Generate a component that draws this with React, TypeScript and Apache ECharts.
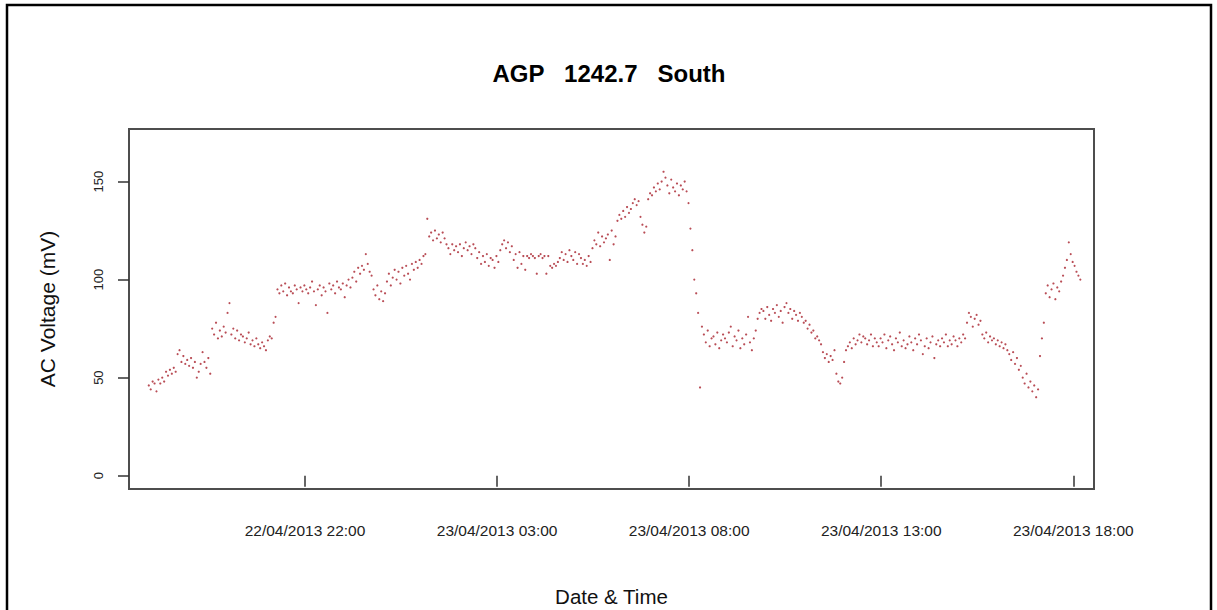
import React, { useEffect, useRef } from "react";
import * as echarts from "echarts";

// Readings every 3 minutes, starting 22/04/2013 17:56 (hours counted from 22/04/2013 00:00)
const startHour = 17 + 56 / 60;
const stepHours = 3 / 60;

// AC voltage (mV), one row per hour of readings
const voltage: number[] = [
  46, 44, 48, 47, 43, 49, 47, 50, 48, 53, 51, 54, 52, 55, 53, 62, 64, 58, 61, 57,
  59, 56, 60, 55, 58, 50, 53, 57, 63, 58, 55, 60, 52, 75, 72, 78, 70, 74, 71, 76,
  73, 83, 88, 72, 75, 70, 74, 69, 72, 71, 68, 70, 73, 67, 69, 66, 70, 67, 65, 68,
  66, 64, 69, 71, 70, 78, 81, 95, 93, 97, 94, 98, 92, 96, 94, 93, 97, 95, 88, 96,
  94, 97, 95, 93, 96, 99, 94, 87, 95, 97, 92, 96, 94, 83, 98, 95, 97, 93, 99, 96,
  95, 98, 91, 97, 100, 96, 101, 104, 99, 106, 103, 107, 105, 113, 108, 104, 102, 95, 92, 97,
  90, 94, 89, 93, 99, 103, 97, 101, 105, 100, 104, 98, 106, 102, 107, 103, 100, 108, 105, 109,
  106, 110, 108, 112, 113, 131, 122, 124, 120, 125, 121, 123, 119, 124, 121, 118, 116, 113, 118, 115,
  117, 114, 118, 112, 116, 119, 115, 117, 113, 118, 116, 111, 114, 108, 112, 109, 113, 107, 111, 110,
  106, 112, 109, 115, 118, 120, 116, 119, 114, 117, 110, 113, 106, 114, 108, 112, 105, 112, 111, 113,
  112, 111, 103, 112, 113, 111, 112, 103, 112, 107, 106, 108, 107, 109, 111, 114, 110, 113, 109, 115,
  112, 110, 114, 108, 113, 111, 108, 110, 107, 112, 109, 116, 120, 118, 124, 117, 122, 119, 121, 123,
  110, 125, 118, 122, 130, 133, 131, 135, 132, 137, 134, 136, 139, 141, 138, 140, 132, 128, 124, 127,
  141, 144, 143, 147, 145, 149, 146, 150, 155, 152, 148, 144, 151, 147, 145, 149, 143, 148, 146, 150,
  145, 139, 126, 115, 100, 93, 83, 45, 76, 72, 68, 74, 66, 70, 71, 67, 73, 65, 69, 72,
  70, 68, 73, 76, 66, 71, 69, 74, 65, 70, 67, 72, 81, 68, 64, 70, 74, 80, 83, 85,
  84, 80, 86, 82, 79, 85, 83, 87, 81, 84, 78, 86, 88, 83, 85, 80, 84, 82, 79, 83,
  81, 78, 79, 75, 77, 73, 74, 70, 71, 69, 67, 63, 60, 62, 58, 61, 59, 64, 52, 48,
  47, 50, 58, 64, 66, 68, 65, 70, 67, 69, 72, 68, 71, 70, 67, 69, 72, 66, 70, 68,
  66, 70, 68, 72, 65, 69, 71, 67, 64, 70, 68, 73, 66, 69, 65, 67, 71, 68, 64, 70,
  67, 72, 69, 62, 66, 70, 65, 68, 71, 60, 67, 69, 66, 70, 68, 72, 66, 69, 67, 71,
  69, 66, 70, 68, 72, 70, 78, 83, 81, 76, 80, 82, 77, 79, 72, 70, 73, 68, 71, 69,
  70, 67, 69, 66, 68, 65, 67, 64, 62, 59, 63, 57, 60, 54, 56, 50, 47, 52, 45, 48,
  43, 46, 40, 44, 61, 70, 78, 93, 97, 91, 95, 98, 90, 96, 94, 99, 102, 106, 110, 119,
  113, 109, 107, 104, 102, 100,
];

// Time axis ticks (hours from 22/04/2013 00:00) and their labels
const timeTicks: number[] = [22, 27, 32, 37, 42];
const timeTickLabels: string[] = [
  "22/04/2013 22:00",
  "23/04/2013 03:00",
  "23/04/2013 08:00",
  "23/04/2013 13:00",
  "23/04/2013 18:00",
];
const voltageTicks: number[] = [0, 50, 100, 150];

const chartTitle = "AGP   1242.7   South";
const xTitle = "Date & Time";
const yTitle = "AC Voltage (mV)";

const FONT = '"Liberation Sans", Arial, sans-serif';

export default function App() {
  const ref = useRef<HTMLDivElement>(null);

  useEffect(() => {
    if (!ref.current) return;
    const chart = echarts.init(ref.current, null, { renderer: "svg" });

    const points = voltage.map((v, i) => [startHour + i * stepHours, v]);

    chart.setOption({
      animation: false,
      backgroundColor: "#ffffff",
      grid: {
        left: 129,
        top: 129,
        width: 965,
        height: 360,
        show: true,
        borderColor: "#4d4d4d",
        borderWidth: 2,
        backgroundColor: "transparent",
        containLabel: false,
        outerBoundsMode: "none",
      },
      graphic: [
        {
          type: "rect",
          shape: { x: 7, y: 5, width: 1204, height: 640 },
          style: { fill: "none", stroke: "#000", lineWidth: 2.5 },
          silent: true,
        },
        {
          type: "text",
          x: 609,
          y: 73,
          style: {
            text: chartTitle,
            fontFamily: FONT,
            fontSize: 24,
            fontWeight: "bold",
            fill: "#000",
            align: "center",
            verticalAlign: "middle",
          },
        },
      ],
      xAxis: {
        type: "value",
        min: 17.418,
        max: 42.539,
        name: xTitle,
        nameLocation: "middle",
        nameGap: 97,
        nameTextStyle: { fontFamily: FONT, fontSize: 20.5, color: "#111" },
        axisLine: { show: false },
        splitLine: { show: false },
        axisTick: {
          show: true,
          customValues: timeTicks,
          length: 11,
          lineStyle: { color: "#333", width: 1.5 },
        },
        axisLabel: {
          customValues: timeTicks,
          margin: 33,
          fontFamily: FONT,
          fontSize: 15.5,
          color: "#222",
          formatter: (v: number) => {
            const k = timeTicks.findIndex((t) => Math.abs(t - v) < 1e-6);
            return k >= 0 ? timeTickLabels[k] : "";
          },
        },
      },
      yAxis: {
        type: "value",
        min: -6.8,
        max: 176.8,
        name: yTitle,
        nameLocation: "middle",
        nameRotate: 90,
        nameGap: 71,
        nameTextStyle: { fontFamily: FONT, fontSize: 21, color: "#111" },
        axisLine: { show: false },
        splitLine: { show: false },
        axisTick: {
          show: true,
          customValues: voltageTicks,
          length: 11,
          lineStyle: { color: "#333", width: 1.5 },
        },
        axisLabel: {
          customValues: voltageTicks,
          rotate: 90,
          margin: 24,
          fontFamily: FONT,
          fontSize: 13,
          color: "#222",
        },
      },
      series: [
        {
          type: "scatter",
          data: points,
          symbol: "circle",
          symbolSize: 2.2,
          itemStyle: { color: "#a8202c" },
          silent: true,
        },
      ],
    });

    return () => chart.dispose();
  }, []);

  return (
    <div
      ref={ref}
      style={{ position: "fixed", left: 0, top: 0, width: 1217, height: 610, background: "#fff" }}
    />
  );
}
